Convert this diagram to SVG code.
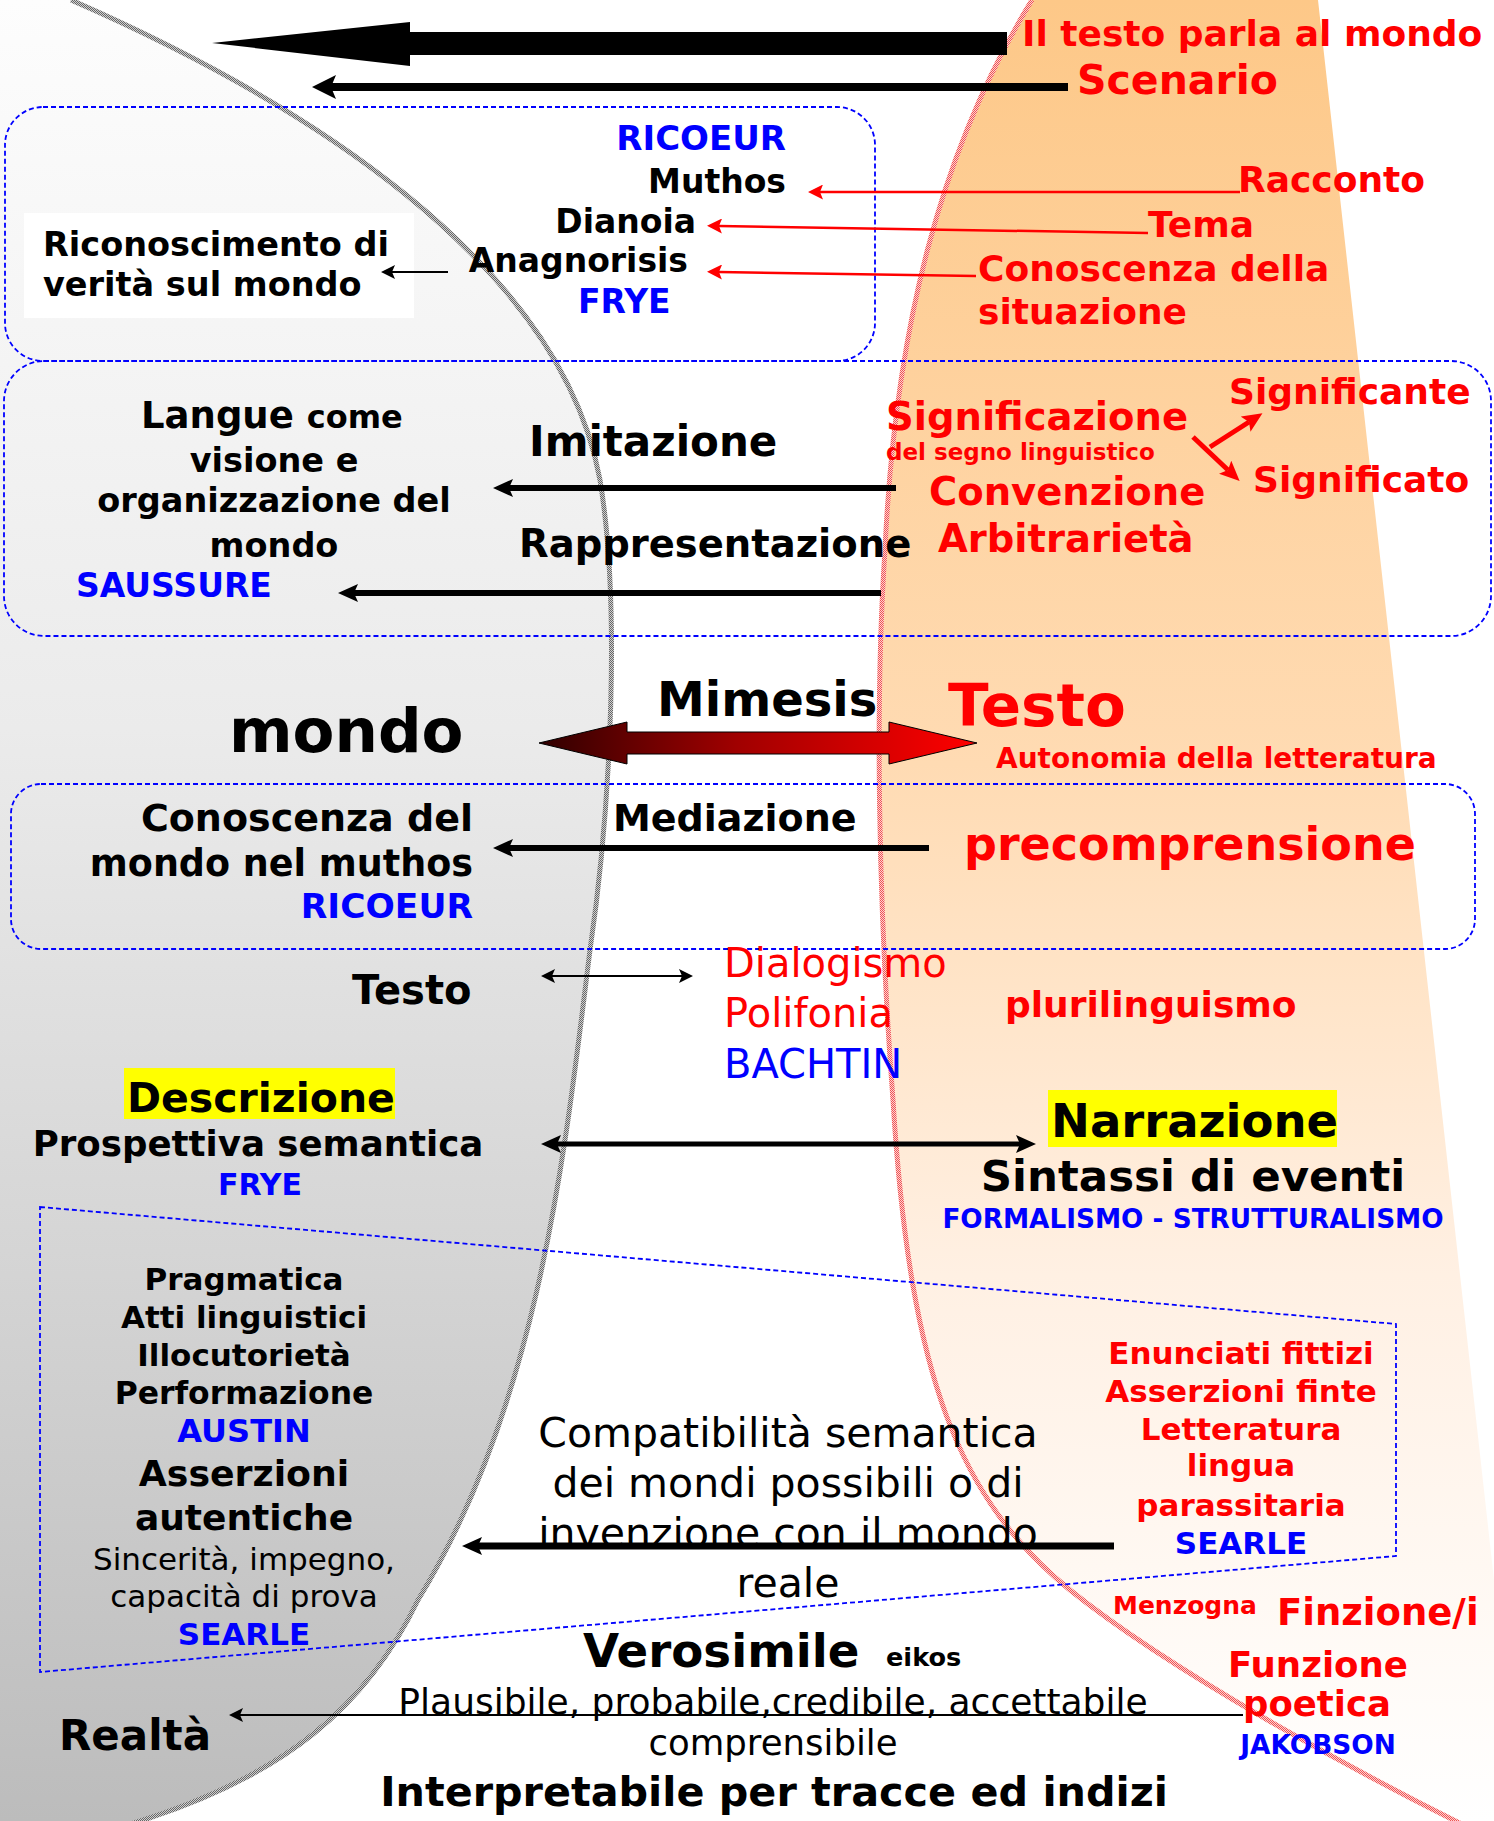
<svg xmlns="http://www.w3.org/2000/svg" width="1494" height="1821" viewBox="0 0 1494 1821">
<style>
text{font-family:"DejaVu Sans",Verdana,sans-serif;font-weight:bold;fill:#000}
.n{font-weight:normal}
.r{fill:#ff0000}
.bl{fill:#0000ff}
.m{text-anchor:middle}
.e{text-anchor:end}
.box{fill:none;stroke:#0000ff;stroke-width:1.8;stroke-dasharray:5 3}
.ak{stroke:#000;fill:none}
.ar{stroke:#ff0000;fill:none;stroke-width:2.5}
.arB{stroke:#ff0000;fill:none;stroke-width:5}
</style>
<defs>
<linearGradient id="gGray" gradientUnits="userSpaceOnUse" x1="0" y1="0" x2="0" y2="1821">
<stop offset="0" stop-color="#fdfdfd"/><stop offset="0.4" stop-color="#ebebeb"/><stop offset="0.7" stop-color="#d4d4d4"/><stop offset="1" stop-color="#bcbcbc"/>
</linearGradient>
<linearGradient id="gOr" gradientUnits="userSpaceOnUse" x1="0" y1="0" x2="0" y2="1821">
<stop offset="0" stop-color="#fdc888"/><stop offset="0.42" stop-color="#ffdbb3"/><stop offset="0.7" stop-color="#fff0e3"/><stop offset="1" stop-color="#ffffff"/>
</linearGradient>
<linearGradient id="gMim" x1="0" y1="0" x2="1" y2="0">
<stop offset="0" stop-color="#300000"/><stop offset="0.45" stop-color="#a00000"/><stop offset="1" stop-color="#ff0000"/>
</linearGradient>
<pattern id="chkG" patternUnits="userSpaceOnUse" width="2" height="2">
<rect width="2" height="2" fill="#d0d0d0"/><rect width="1" height="1" fill="#666"/><rect x="1" y="1" width="1" height="1" fill="#666"/>
</pattern>
<pattern id="chkR" patternUnits="userSpaceOnUse" width="2" height="2">
<rect width="2" height="2" fill="#ffd0d0"/><rect width="1" height="1" fill="#ee5555"/><rect x="1" y="1" width="1" height="1" fill="#ee5555"/>
</pattern>
<marker id="ah" markerUnits="userSpaceOnUse" viewBox="0 0 20 18" markerWidth="20" markerHeight="18" refX="4" refY="9" orient="auto-start-reverse"><path d="M0,0 L20,9 L0,18 L4,9 Z" fill="#000"/></marker>
<marker id="ahL" markerUnits="userSpaceOnUse" viewBox="0 0 24 24" markerWidth="24" markerHeight="24" refX="5" refY="12" orient="auto"><path d="M0,0 L24,12 L0,24 L5,12 Z" fill="#000"/></marker>
<marker id="aht" markerUnits="userSpaceOnUse" viewBox="0 0 14 14" markerWidth="14" markerHeight="14" refX="3" refY="7" orient="auto-start-reverse"><path d="M0,0 L14,7 L0,14 L3,7 Z" fill="#000"/></marker>
<marker id="ahr" markerUnits="userSpaceOnUse" viewBox="0 0 15 15" markerWidth="15" markerHeight="15" refX="3" refY="7.5" orient="auto"><path d="M0,0 L15,7.5 L0,15 L3,7.5 Z" fill="#ff0000"/></marker>
<marker id="ahrB" markerUnits="userSpaceOnUse" viewBox="0 0 20 18" markerWidth="20" markerHeight="18" refX="4" refY="9" orient="auto"><path d="M0,0 L20,9 L0,18 L4,9 Z" fill="#ff0000"/></marker>
</defs>

<rect width="1494" height="1821" fill="#ffffff"/>

<g id="background">
<path d="M71,0 C300,100 560,260 600,480 C620,600 612,800 590,950 C565,1150 540,1400 418,1600 C370,1700 290,1780 110,1830 L0,1830 L0,0 Z" fill="url(#gGray)"/>
<path d="M1032,0 C940,150 895,330 885,550 C875,700 878,900 893,1100 C910,1380 960,1500 1070,1590 C1170,1670 1350,1770 1494,1840 L1494,1580 L1318,0 Z" fill="url(#gOr)"/>
<path d="M71,0 C300,100 560,260 600,480 C620,600 612,800 590,950 C565,1150 540,1400 418,1600 C370,1700 290,1780 110,1830" fill="none" stroke="url(#chkG)" stroke-width="5"/>
<path d="M1032,0 C940,150 895,330 885,550 C875,700 878,900 893,1100 C910,1380 960,1500 1070,1590 C1170,1670 1350,1770 1494,1840" fill="none" stroke="url(#chkR)" stroke-width="5"/>
</g>

<g id="frames">
<rect class="box" x="5" y="107" width="870" height="254" rx="38"/>
<rect class="box" x="4" y="361" width="1487" height="275" rx="40"/>
<rect class="box" x="11" y="784" width="1464" height="165" rx="30"/>
<polygon class="box" points="40,1207 1396,1324 1396,1556 40,1672"/>
</g>

<g id="n-testo-parla"><text class="r" x="1022" y="46" font-size="36">Il testo parla al mondo</text></g>
<g id="n-scenario"><text class="r" x="1077" y="94" font-size="41">Scenario</text></g>

<g id="n-ricoeur-frye">
<text class="bl e" x="786" y="150" font-size="34">RICOEUR</text>
<text class="e" x="786" y="193" font-size="33">Muthos</text>
<text class="e" x="696" y="233" font-size="33">Dianoia</text>
<text class="e" x="688" y="272" font-size="33">Anagnorisis</text>
<text class="bl" x="578" y="313" font-size="33">FRYE</text>
</g>

<g id="n-riconoscimento">
<rect x="24" y="213" width="390" height="105" fill="#ffffff"/>
<text x="43" y="256" font-size="33.5">Riconoscimento di</text>
<text x="43" y="296" font-size="33.5">verità sul mondo</text>
</g>

<g id="n-racconto"><text class="r" x="1238" y="192" font-size="36">Racconto</text></g>
<g id="n-tema"><text class="r" x="1148" y="237" font-size="36">Tema</text></g>
<g id="n-conoscenza-sit">
<text class="r" x="978" y="281" font-size="36">Conoscenza della</text>
<text class="r" x="978" y="324" font-size="36">situazione</text>
</g>

<g id="n-langue">
<text x="141" y="428" font-size="37">Langue <tspan font-size="32">come</tspan></text>
<text class="m" x="274" y="472" font-size="33.5">visione e</text>
<text class="m" x="274" y="512" font-size="33.5">organizzazione del</text>
<text class="m" x="274" y="557" font-size="33.5">mondo</text>
<text class="bl" x="76" y="597" font-size="33">SAUSSURE</text>
</g>

<g id="n-imitazione"><text x="529" y="456" font-size="42">Imitazione</text></g>
<g id="n-rappresentazione"><text x="519" y="557" font-size="38.5">Rappresentazione</text></g>

<g id="n-significazione">
<text class="r" x="886" y="430" font-size="38.5">Significazione</text>
<text class="r" x="886" y="460" font-size="23">del segno linguistico</text>
<text class="r" x="929" y="505" font-size="38.5">Convenzione</text>
<text class="r" x="938" y="552" font-size="38.5">Arbitrarietà</text>
</g>
<g id="n-significante"><text class="r" x="1229" y="404" font-size="36">Significante</text></g>
<g id="n-significato"><text class="r" x="1253" y="492" font-size="36">Significato</text></g>

<g id="n-mimesis"><text x="657" y="716" font-size="48">Mimesis</text></g>
<g id="n-mondo"><text x="229" y="752" font-size="61">mondo</text></g>
<g id="n-testo-big">
<text class="r" x="948" y="726" font-size="59.5">Testo</text>
<text class="r" x="996" y="768" font-size="28">Autonomia della letteratura</text>
</g>

<g id="n-conoscenza-mondo">
<text class="e" x="473" y="831" font-size="38">Conoscenza del</text>
<text class="e" x="473" y="876" font-size="36.5">mondo nel muthos</text>
<text class="bl e" x="473" y="918" font-size="34.5">RICOEUR</text>
</g>
<g id="n-mediazione"><text x="613" y="831" font-size="38">Mediazione</text></g>
<g id="n-precomprensione"><text class="r" x="964" y="860" font-size="46">precomprensione</text></g>

<g id="n-testo-small"><text x="352" y="1004" font-size="40">Testo</text></g>
<g id="n-bachtin">
<text class="n r" x="724" y="977" font-size="40">Dialogismo</text>
<text class="n r" x="724" y="1027" font-size="40">Polifonia</text>
<text class="n bl" x="724" y="1078" font-size="40">BACHTIN</text>
</g>
<g id="n-plurilinguismo"><text class="r" x="1005" y="1017" font-size="36">plurilinguismo</text></g>

<g id="n-descrizione">
<rect x="124" y="1068" width="271" height="51" fill="#ffff00"/>
<text x="127" y="1112" font-size="41">Descrizione</text>
<text class="m" x="258" y="1156" font-size="35.6">Prospettiva semantica</text>
<text class="bl m" x="260" y="1195" font-size="30">FRYE</text>
</g>

<g id="n-narrazione">
<rect x="1048" y="1090" width="289" height="57" fill="#ffff00"/>
<text x="1051" y="1137" font-size="46.5">Narrazione</text>
<text class="m" x="1193" y="1191" font-size="43.5">Sintassi di eventi</text>
<text class="bl m" x="1193" y="1228" font-size="26.3">FORMALISMO - STRUTTURALISMO</text>
</g>

<g id="n-austin-searle">
<text class="m" x="244" y="1290" font-size="31">Pragmatica</text>
<text class="m" x="244" y="1328" font-size="31">Atti linguistici</text>
<text class="m" x="244" y="1366" font-size="31">Illocutorietà</text>
<text class="m" x="244" y="1404" font-size="31.4">Performazione</text>
<text class="bl m" x="244" y="1442" font-size="32">AUSTIN</text>
<text class="m" x="244" y="1486" font-size="36.3">Asserzioni</text>
<text class="m" x="244" y="1530" font-size="36">autentiche</text>
<text class="n m" x="244" y="1570" font-size="31">Sincerità, impegno,</text>
<text class="n m" x="244" y="1607" font-size="31">capacità di prova</text>
<text class="bl m" x="244" y="1645" font-size="31">SEARLE</text>
</g>

<g id="n-enunciati">
<text class="r m" x="1241" y="1364" font-size="31">Enunciati fittizi</text>
<text class="r m" x="1241" y="1402" font-size="31">Asserzioni finte</text>
<text class="r m" x="1241" y="1440" font-size="31">Letteratura</text>
<text class="r m" x="1241" y="1476" font-size="31">lingua</text>
<text class="r m" x="1241" y="1516" font-size="31">parassitaria</text>
<text class="bl m" x="1241" y="1554" font-size="31">SEARLE</text>
</g>

<g id="n-compatibilita">
<text class="n m" x="788" y="1447" font-size="41">Compatibilità semantica</text>
<text class="n m" x="788" y="1497" font-size="41">dei mondi possibili o di</text>
<text class="n m" x="788" y="1547" font-size="41">invenzione con il mondo</text>
<text class="n m" x="788" y="1597" font-size="41">reale</text>
</g>

<g id="n-finzione">
<text class="r" x="1113" y="1614" font-size="25">Menzogna</text>
<text class="r" x="1277" y="1625" font-size="37">Finzione/i</text>
</g>
<g id="n-funzione">
<text class="r m" x="1318" y="1677" font-size="35.6">Funzione</text>
<text class="r m" x="1317" y="1716" font-size="35.5">poetica</text>
<text class="bl m" x="1318" y="1754" font-size="26.4">JAKOBSON</text>
</g>

<g id="n-verosimile">
<text x="583" y="1667" font-size="46.7">Verosimile</text>
<text x="886" y="1666" font-size="25.6">eikos</text>
<text class="n m" x="773" y="1714" font-size="36">Plausibile, probabile,credibile, accettabile</text>
<text class="n m" x="773" y="1755" font-size="35.5">comprensibile</text>
<text class="m" x="774" y="1806" font-size="41.3">Interpretabile per tracce ed indizi</text>
</g>

<g id="n-realta"><text x="59" y="1750" font-size="42">Realtà</text></g>

<g id="connectors">
<polygon points="1007,32 410,32 410,22 212,43 410,66 410,55 1007,55" fill="#000"/>
<line class="ak" x1="1068" y1="87" x2="331" y2="87" stroke-width="8" marker-end="url(#ahL)"/>
<line class="ar" x1="1240" y1="192" x2="820" y2="192" marker-end="url(#ahr)"/>
<line class="ar" x1="1148" y1="233" x2="719" y2="226" marker-end="url(#ahr)"/>
<line class="ar" x1="976" y1="276" x2="719" y2="272" marker-end="url(#ahr)"/>
<line class="ak" x1="448" y1="272" x2="392" y2="272" stroke-width="2" marker-end="url(#aht)"/>
<line class="ak" x1="896" y1="488" x2="509" y2="488" stroke-width="6" marker-end="url(#ah)"/>
<line class="ak" x1="881" y1="593" x2="354" y2="593" stroke-width="6" marker-end="url(#ah)"/>
<line class="arB" x1="1193" y1="437" x2="1228" y2="470" marker-end="url(#ahrB)"/>
<line class="arB" x1="1210" y1="447" x2="1249" y2="422" marker-end="url(#ahrB)"/>
<polygon points="539,743 627,722 627,732 889,732 889,722 977,743 889,764 889,754 627,754 627,764" fill="url(#gMim)" stroke="#000" stroke-width="1"/>
<line class="ak" x1="929" y1="848" x2="509" y2="848" stroke-width="6" marker-end="url(#ah)"/>
<line class="ak" x1="552" y1="976" x2="682" y2="976" stroke-width="2" marker-start="url(#aht)" marker-end="url(#aht)"/>
<line class="ak" x1="557" y1="1144" x2="1020" y2="1144" stroke-width="5" marker-start="url(#ah)" marker-end="url(#ah)"/>
<line class="ak" x1="1114" y1="1546" x2="478" y2="1546" stroke-width="7" marker-end="url(#ah)"/>
<line class="ak" x1="1243" y1="1715" x2="240" y2="1715" stroke-width="2" marker-end="url(#aht)"/>
</g>
</svg>
